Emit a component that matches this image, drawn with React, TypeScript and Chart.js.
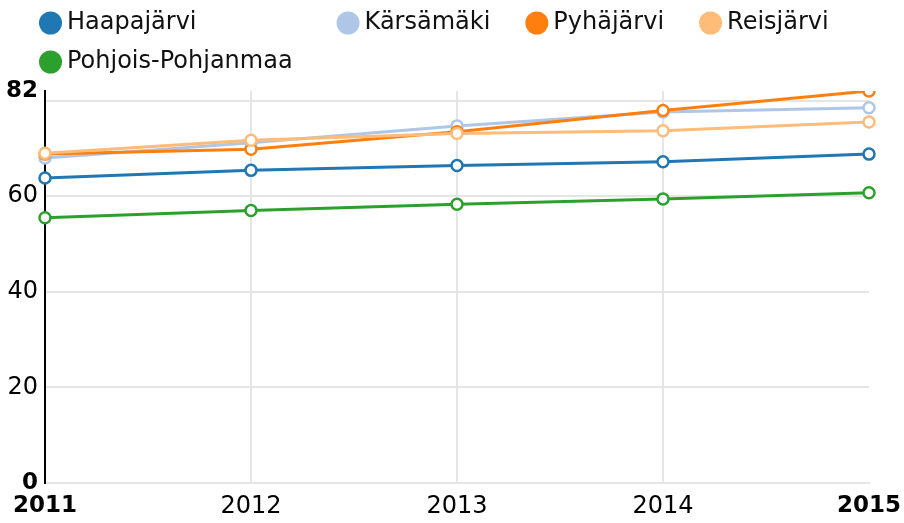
import React, { useEffect, useRef } from "react";
import { Chart, registerables } from "chart.js";

Chart.register(...registerables);

const years = ["2011", "2012", "2013", "2014", "2015"];
const seriesNames = ["Haapajärvi", "Kärsämäki", "Pyhäjärvi", "Reisjärvi", "Pohjois-Pohjanmaa"];
const colors = ["#1f77b4", "#aec7e8", "#ff7f0e", "#ffbb78", "#2ca02c"];
const haapajarvi = [63.8, 65.4, 66.4, 67.2, 68.8];
const karsamaki = [68.0, 71.2, 74.7, 77.6, 78.5];
const pyhajarvi = [68.8, 69.8, 73.5, 77.9, 82.0];
const reisjarvi = [69.0, 71.7, 73.1, 73.7, 75.5];
const pohjoisPohjanmaa = [55.5, 57.0, 58.3, 59.4, 60.7];
const yTicks = [0, 20, 40, 60, 80, 82];
const yMax = 82;

const FONT = "'DejaVu Sans', sans-serif";

const legendPlugin = {
  id: "gridLegend",
  afterDraw(chart: any) {
    const ctx = chart.ctx;
    const ds = chart.data.datasets;
    ctx.save();
    ctx.font = `24px ${FONT}`;
    ctx.textBaseline = "middle";
    ctx.textAlign = "left";
    const cols = 4;
    const r = 11.5;
    const gapText = 5;
    const colGaps = [44, 35, 35];
    const startX = 39;
    const rowYs = [23, 62];
    const widths: number[] = [];
    for (let c = 0; c < cols; c++) {
      let w = 0;
      for (let i = c; i < ds.length; i += cols) {
        const tw = ctx.measureText(ds[i].label).width;
        w = Math.max(w, 2 * r + gapText + tw);
      }
      widths.push(w);
    }
    for (let i = 0; i < ds.length; i++) {
      const c = i % cols;
      const row = Math.floor(i / cols);
      let x = startX;
      for (let k = 0; k < c; k++) x += widths[k] + colGaps[k];
      const y = rowYs[row];
      ctx.beginPath();
      ctx.fillStyle = ds[i].borderColor;
      ctx.arc(x + r, y, r, 0, Math.PI * 2);
      ctx.fill();
      ctx.fillStyle = "#111";
      ctx.fillText(ds[i].label, x + 2 * r + gapText, y);
    }
    ctx.restore();
  },
};

export default function App() {
  const ref = useRef<HTMLCanvasElement>(null);
  useEffect(() => {
    document.body.style.margin = "0";
    const values = [haapajarvi, karsamaki, pyhajarvi, reisjarvi, pohjoisPohjanmaa];
    const chart = new Chart(ref.current!, {
      type: "line",
      data: {
        labels: years,
        datasets: seriesNames.map((name, i) => ({
          label: name,
          data: values[i],
          borderColor: colors[i],
          backgroundColor: colors[i],
          pointBackgroundColor: "#fff",
          pointBorderColor: colors[i],
          pointBorderWidth: 2.5,
          pointRadius: 5.5,
          borderWidth: 3,
          tension: 0,
          order: -i,
        })),
      },
      options: {
        responsive: false,
        animation: false,
        devicePixelRatio: 1,
        layout: { padding: { top: 91, left: 0, right: 35, bottom: 0 } },
        plugins: { legend: { display: false }, tooltip: { enabled: false } },
        scales: {
          x: {
            type: "category",
            offset: false,
            grid: {
              drawTicks: false,
              lineWidth: 2,
              color: (c: any) => (c.index === 0 || c.index === 4 ? "rgba(0,0,0,0)" : "#e5e5e5"),
            },
            border: { display: true, color: "#e5e5e5", width: 2 },
            ticks: {
              padding: 9,
              color: "#000",
              maxRotation: 0,
              autoSkip: false,
              font: (c: any) => {
                const b = c.index === 0 || c.index === 4;
                return { family: FONT, size: b ? 23 : 24, weight: b ? "bold" : "normal" };
              },
            },
            afterFit: (s: any) => {
              s.height = 40;
              s.paddingLeft = 0;
              s.paddingRight = 0;
            },
          },
          y: {
            type: "linear",
            min: 0,
            max: yMax,
            afterBuildTicks: (s: any) => {
              s.ticks = yTicks.map((v) => ({ value: v }));
            },
            grid: {
              drawTicks: false,
              lineWidth: 2,
              color: (c: any) =>
                c.tick && (c.tick.value === 82 || c.tick.value === 0) ? "rgba(0,0,0,0)" : "#e5e5e5",
            },
            border: { display: true, color: "#000", width: 2 },
            ticks: {
              padding: 7,
              color: "#000",
              autoSkip: false,
              callback: (v: any) => (v === 80 ? "" : String(v)),
              font: (c: any) => {
                const b = c.tick && (c.tick.value === 0 || c.tick.value === 82);
                return { family: FONT, size: b ? 23 : 24, weight: b ? "bold" : "normal" };
              },
            },
            afterFit: (s: any) => {
              s.width = 45;
              s.paddingTop = 0;
              s.paddingBottom = 0;
            },
          },
        },
      },
      plugins: [legendPlugin],
    });
    return () => chart.destroy();
  }, []);
  return (
    <div style={{ position: "absolute", left: 0, top: 0, width: 904, height: 523 }}>
      <canvas ref={ref} width={904} height={523} style={{ display: "block" }} />
    </div>
  );
}
